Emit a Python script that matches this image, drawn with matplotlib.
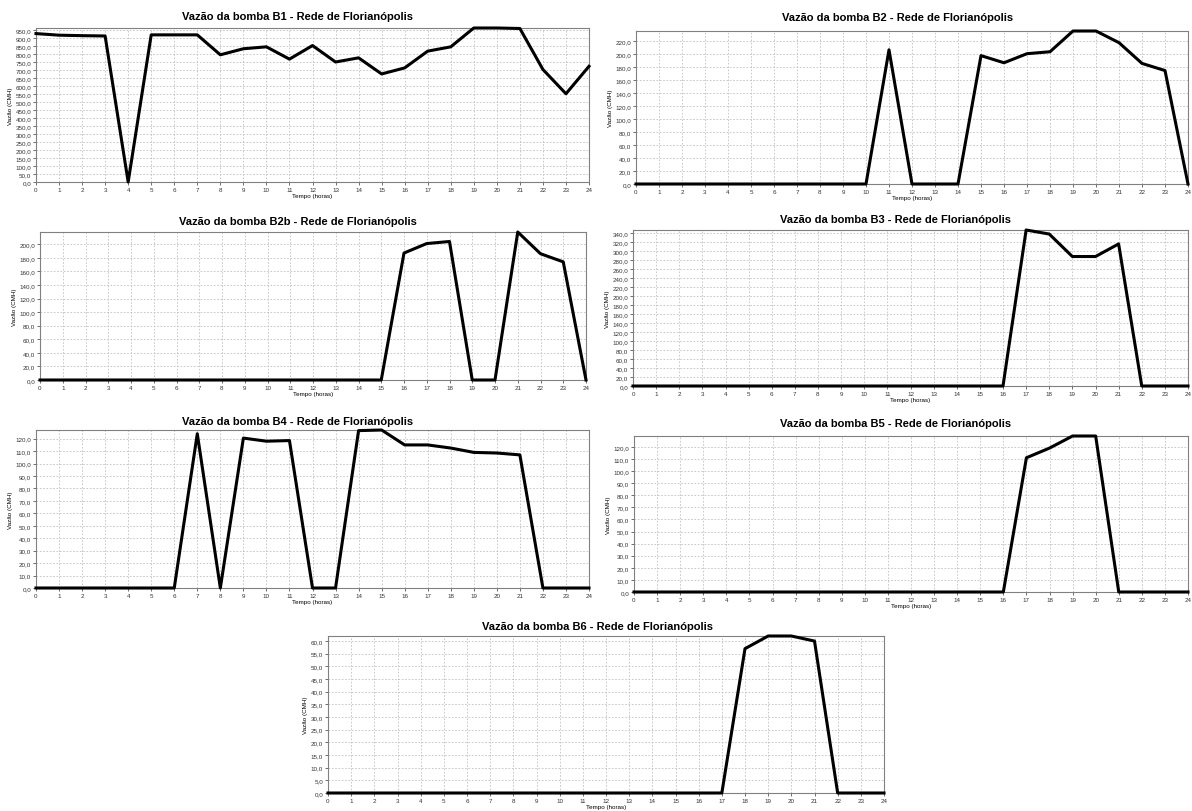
import numpy as np
import matplotlib.pyplot as plt
from matplotlib.ticker import FuncFormatter, MultipleLocator

plt.rcParams['font.family'] = ['Liberation Sans', 'DejaVu Sans']

# hours 0..24
horas = list(range(25))

vazao_b1 = [930, 920, 917, 915, 0, 922, 922, 922, 797, 835, 847, 770, 855,
            752, 778, 677, 715, 820, 847, 965, 965, 962, 705, 553, 725]
vazao_b2 = [0, 0, 0, 0, 0, 0, 0, 0, 0, 0, 0, 207, 0,
            0, 0, 198, 187, 201, 204, 236, 236, 218, 186, 175, 0]
vazao_b2b = [0, 0, 0, 0, 0, 0, 0, 0, 0, 0, 0, 0, 0,
             0, 0, 0, 187, 201, 204, 0, 0, 218, 186, 174, 0]
vazao_b3 = [0, 0, 0, 0, 0, 0, 0, 0, 0, 0, 0, 0, 0,
            0, 0, 0, 0, 347, 338, 288, 288, 316, 0, 0, 0]
vazao_b4 = [0, 0, 0, 0, 0, 0, 0, 124, 0, 120.5, 118, 118.5, 0,
            0, 126.5, 127, 115, 115, 112.5, 109, 108.5, 107, 0, 0, 0]
vazao_b5 = [0, 0, 0, 0, 0, 0, 0, 0, 0, 0, 0, 0, 0,
            0, 0, 0, 0, 111, 119, 129, 129, 0, 0, 0, 0]
vazao_b6 = [0, 0, 0, 0, 0, 0, 0, 0, 0, 0, 0, 0, 0,
            0, 0, 0, 0, 0, 57, 62, 62, 60, 0, 0, 0]

# (name, data, y step, y top, axes box in px (left, top, right, bottom), title centre in px)
charts = [
    ('B1', vazao_b1, 50, 965, (36, 29, 589, 183), (298, 17)),
    ('B2', vazao_b2, 20, 236, (636, 32, 1188, 185), (898, 18)),
    ('B2b', vazao_b2b, 20, 218, (40, 233, 586, 381), (298, 222)),
    ('B3', vazao_b3, 20, 347, (633, 231, 1188, 387), (896, 220)),
    ('B4', vazao_b4, 10, 127, (36, 431, 589, 589), (298, 422)),
    ('B5', vazao_b5, 10, 129, (634, 437, 1188, 593), (896, 424)),
    ('B6', vazao_b6, 5, 62, (328, 637, 884, 794), (597, 627)),
]

W, H = 1192, 812
fig = plt.figure(figsize=(W / 100, H / 100), dpi=100)

fmt = FuncFormatter(lambda v, p: f'{v:.1f}'.replace('.', ','))

for name, data, step, top, (l, t, r, b), (tx, ty) in charts:
    ax = fig.add_axes([l / W, 1 - b / H, (r - l) / W, (b - t) / H])
    ax.plot(horas, data, color='black', linewidth=2.2, clip_on=False, zorder=5)
    ax.set_xlim(0, 24)
    ax.set_ylim(0, top)
    ax.xaxis.set_major_locator(MultipleLocator(1))
    ax.yaxis.set_major_locator(MultipleLocator(step))
    ax.yaxis.set_major_formatter(fmt)
    ax.grid(True, linestyle=(0, (2, 2)), color='#c0c0c0', linewidth=0.6)
    ax.tick_params(labelsize=4.5, length=2, width=0.5, pad=1.5, colors='#333333')
    for s in ax.spines.values():
        s.set_color('#808080')
        s.set_linewidth(0.8)
    fig.text(tx / W, 1 - ty / H, f'Vazão da bomba {name} - Rede de Florianópolis',
             fontsize=8, fontweight='bold', ha='center', va='center')
    ax.set_xlabel('Tempo (horas)', fontsize=4.5, labelpad=1)
    ax.set_ylabel('Vazão (CMH)', fontsize=4.5, labelpad=2)

fig.savefig('out.png', dpi=100)
